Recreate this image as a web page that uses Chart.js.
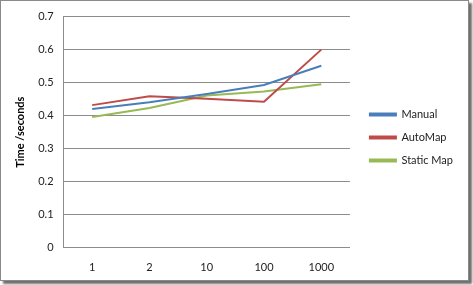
<!DOCTYPE html>
<html>
<head>
<meta charset="utf-8">
<script src="https://cdn.jsdelivr.net/npm/chart.js@4/dist/chart.umd.min.js"></script>
<style>
  html, body { margin: 0; padding: 0; background: #fff; }
  body { width: 473px; height: 285px; position: relative; overflow: hidden; }
  .frame {
    position: absolute; left: 0; top: 0; width: 467px; height: 279px;
    border: 1px solid #8a8a8a; box-shadow: 3px 3px 2px #6f6f6f; background: #fff;
  }
  #chart { position: absolute; left: 0; top: 0; }
</style>
</head>
<body>
<div class="frame"></div>
<canvas id="chart" width="473" height="285"></canvas>
<script>
// Chart data
const categories = ['1', '2', '10', '100', '1000'];
const manual = [0.420, 0.441, 0.466, 0.493, 0.551];
const autoMap = [0.432, 0.459, 0.451, 0.442, 0.600];
const staticMap = [0.396, 0.423, 0.461, 0.473, 0.495];

const FONT = 'Lato, "Open Sans", sans-serif';

// nudge the legend a bit away from the plot, like the original
const legendShift = {
  id: 'legendShift',
  afterLayout(chart) {
    if (chart.legend) {
      chart.legend.left += 8;
      chart.legend.right += 8;
    }
  }
};

const ctx = document.getElementById('chart');
new Chart(ctx, {
  type: 'line',
  data: {
    labels: categories,
    datasets: [
      { label: 'Manual', data: manual, borderColor: '#4a7ebb', backgroundColor: '#4a7ebb' },
      { label: 'AutoMap', data: autoMap, borderColor: '#be4b48', backgroundColor: '#be4b48' },
      { label: 'Static Map', data: staticMap, borderColor: '#98b954', backgroundColor: '#98b954' }
    ]
  },
  options: {
    responsive: false,
    animation: false,
    elements: {
      line: { borderWidth: 2, tension: 0 },
      point: { radius: 0 }
    },
    layout: { padding: { top: -4, right: 18, bottom: 6, left: 10 } },
    plugins: {
      tooltip: { enabled: false },
      legend: {
        position: 'right',
        labels: {
          boxWidth: 26,
          boxHeight: 2,
          padding: 12,
          color: '#222',
          font: { family: FONT, size: 11 }
        }
      }
    },
    scales: {
      x: {
        offset: true,
        grid: { display: false },
        border: { color: '#8c8c8c' },
        ticks: { color: '#222', padding: 5, font: { family: FONT, size: 11 } }
      },
      y: {
        min: 0,
        max: 0.7,
        grid: { color: '#8c8c8c', drawTicks: false },
        border: { color: '#8c8c8c' },
        ticks: {
          stepSize: 0.1,
          color: '#222',
          padding: 10,
          font: { family: FONT, size: 11 },
          callback: v => Math.round(v * 10) / 10
        },
        title: {
          display: true,
          text: 'Time /seconds',
          color: '#000',
          padding: { top: 4, bottom: 1 },
          font: { family: FONT, size: 11, weight: 'bold' }
        }
      }
    }
  },
  plugins: [legendShift]
});
</script>
</body>
</html>
